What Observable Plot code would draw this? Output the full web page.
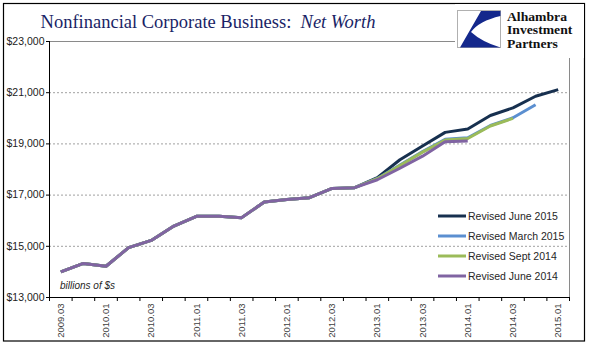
<!DOCTYPE html>
<html>
<head>
<meta charset="utf-8">
<script src="https://cdn.jsdelivr.net/npm/d3@7"></script>
<script src="https://cdn.jsdelivr.net/npm/@observablehq/plot@0.6"></script>
<style>
  html, body { margin: 0; padding: 0; background: #fff; }
  #wrap { position: relative; width: 595px; height: 361px; overflow: hidden; }
  #wrap > svg { position: absolute; left: 0; top: 0; }
</style>
</head>
<body>
<div id="wrap"></div>
<script>
// ---- data ----
const quarters = ["2009.03","2009.04","2010.01","2010.02","2010.03","2010.04","2011.01","2011.02","2011.03","2011.04","2012.01","2012.02","2012.03","2012.04","2013.01","2013.02","2013.03","2013.04","2014.01","2014.02","2014.03","2014.04","2015.01"];
const shownLabels = ["2009.03","2010.01","2010.03","2011.01","2011.03","2012.01","2012.03","2013.01","2013.03","2014.01","2014.03","2015.01"];
const seriesNames = ["Revised June 2015","Revised March 2015","Revised Sept 2014","Revised June 2014"];
const seriesColors = ["#17304f","#5b8fd0","#9bbb59","#8064a2"];
const revJune2015  = [14000,14330,14220,14950,15230,15790,16170,16170,16120,16730,16830,16900,17260,17290,17680,18380,18920,19450,19580,20110,20410,20860,21120];
const revMarch2015 = [14000,14330,14220,14950,15230,15790,16170,16170,16120,16730,16830,16900,17260,17290,17650,18170,18700,19180,19240,19720,20020,20530,null];
const revSept2014  = [14000,14330,14220,14950,15230,15790,16170,16170,16120,16730,16830,16900,17260,17290,17640,18150,18680,19150,19210,19700,20000,null,null];
const revJune2014  = [14000,14330,14220,14950,15230,15790,16170,16170,16120,16730,16830,16900,17260,17290,17600,18050,18520,19080,19110,null,null,null,null];
const yTicks = [13000,15000,17000,19000,21000,23000];
const gridValues = [15000,17000,19000,21000];
const unitNote = "billions of $s";
const logoLines = ["Alhambra", "Investment", "Partners"];

const allSeries = [revJune2015, revMarch2015, revSept2014, revJune2014];
const toRows = vals => vals.map((v, i) => ({i, v})).filter(d => d.v != null);
const boundaries = d3.range(quarters.length + 1).map(i => i - 0.5);
const labelIdx = shownLabels.map(l => quarters.indexOf(l));

const chart = Plot.plot({
  width: 595, height: 361,
  marginLeft: 49, marginRight: 26, marginTop: 41, marginBottom: 64,
  style: {fontFamily: "'Liberation Sans', Arial, sans-serif", fontSize: "10.5px", color: "#333", background: "transparent", overflow: "visible"},
  x: {type: "linear", domain: [-0.5, quarters.length - 0.5], axis: null},
  y: {domain: [13000, 23000], axis: null},
  marks: [
    Plot.ruleY(gridValues, {stroke: "#a0a0a0", strokeDasharray: "2,2"}),
    Plot.frame({stroke: "#8a8a8a"}),
    Plot.axisY(yTicks, {label: null, tickSize: 3, tickPadding: 2, tickFormat: d => "$" + d3.format(",")(d), stroke: "#000", fontSize: 10.5, fill: "#222"}),
    Plot.axisX(boundaries, {label: null, tickSize: 4, tickFormat: () => "", stroke: "#000"}),
    Plot.axisX(labelIdx, {label: null, tickSize: 0, tickPadding: 6, tickRotate: -90, tickFormat: i => quarters[i], fontSize: 9.5, fill: "#404040"}),
    Plot.ruleX([-0.5], {stroke: "#000"}),
    Plot.ruleY([13000], {stroke: "#000"}),
    ...allSeries.map((s, k) => Plot.line(toRows(s), {x: "i", y: "v", stroke: seriesColors[k], strokeWidth: 3, strokeLinejoin: "round", strokeLinecap: "butt"}))
  ]
});
document.getElementById("wrap").appendChild(chart);

// ---- overlay: frame, title, logo, legend, note ----
const ov = d3.select("#wrap").append("svg").attr("width", 595).attr("height", 361);
ov.append("rect").attr("x", 3.5).attr("y", 3.5).attr("width", 581).attr("height", 337.5).attr("fill", "none").attr("stroke", "#000").attr("stroke-width", 1.2);

const title = ov.append("text").attr("x", 208).attr("y", 28).attr("text-anchor", "middle")
  .attr("font-family", "'Liberation Serif', 'Times New Roman', serif").attr("font-size", 18.5).attr("fill", "#1a1f66")
  .style("white-space", "pre");
title.append("tspan").text("Nonfinancial Corporate Business:  ");
title.append("tspan").attr("font-style", "italic").text("Net Worth");

// logo
const logo = ov.append("g");
logo.append("rect").attr("x", 455).attr("y", 4).attr("width", 129).attr("height", 54).attr("fill", "#fff");
const lg = logo.append("g").attr("transform", "translate(457,10)");
lg.append("rect").attr("x", 0.5).attr("y", 0.5).attr("width", 43).attr("height", 37).attr("fill", "#fff").attr("stroke", "#b0b0b0");
lg.append("path").attr("d", "M24,1 L43.5,1 L43.5,6 Q22,11 14,22 Q25,32 43.5,37.5 L3,37.5 Z").attr("fill", "#14288c");
const lgt = logo.append("g").attr("transform", "translate(507,0) scale(1.18,1)");
logoLines.forEach((t, k) => lgt.append("text").attr("x", 0).attr("y", 21 + k * 13.5)
  .attr("font-family", "'Liberation Serif', 'Times New Roman', serif").attr("font-size", 11.6).attr("font-weight", 600).attr("fill", "#111").text(t));

// legend
seriesNames.forEach((name, k) => {
  const y = 216 + k * 20;
  ov.append("line").attr("x1", 438).attr("x2", 466).attr("y1", y).attr("y2", y).attr("stroke", seriesColors[k]).attr("stroke-width", 3);
  ov.append("text").attr("x", 468).attr("y", y + 3.8).attr("font-family", "'Liberation Sans', Arial, sans-serif")
    .attr("font-size", 10.5).attr("fill", "#262626").text(name);
});

ov.append("text").attr("x", 60).attr("y", 289).attr("font-family", "'Liberation Sans', Arial, sans-serif")
  .attr("font-size", 10).attr("font-style", "italic").attr("fill", "#262626").text(unitNote);
</script>
</body>
</html>
